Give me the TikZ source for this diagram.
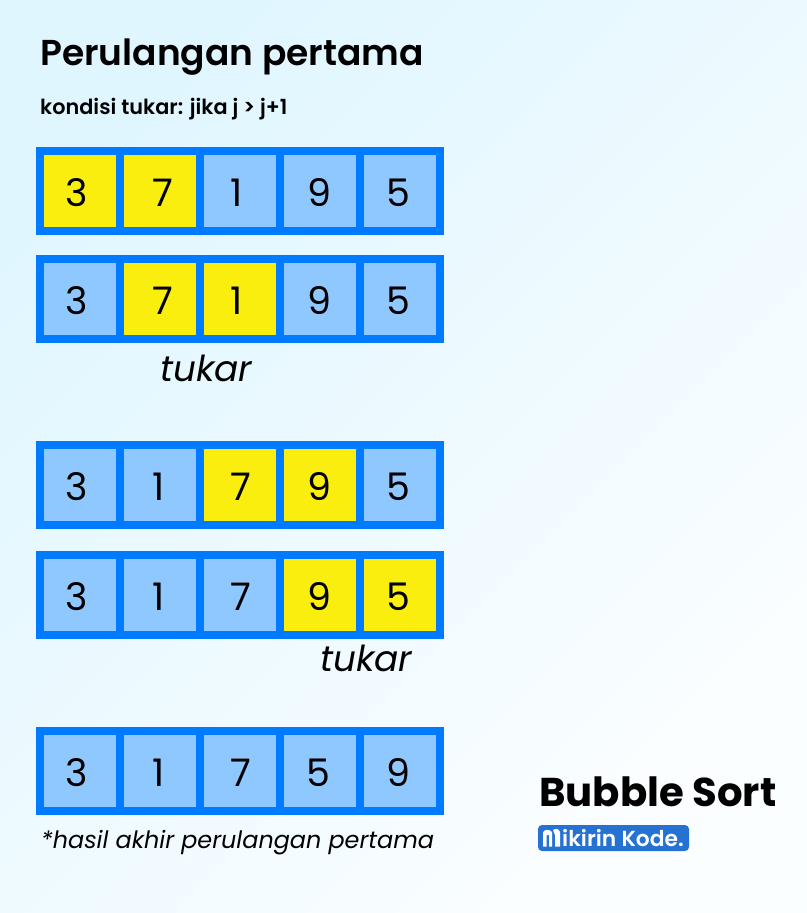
\documentclass[tikz,border=0pt]{standalone}
\usepackage{fontspec}
\setmainfont{Poppins}
\newfontfamily\pmed{Poppins Medium}
\newfontfamily\psemi{Poppins SemiBold}
\newfontfamily\pital{Poppins Italic}
\definecolor{bgA}{HTML}{E0F6FF}
\definecolor{bgB}{HTML}{FBFEFF}
\definecolor{frameblue}{HTML}{007BFF}
\definecolor{cellblue}{HTML}{8FC8FF}
\definecolor{cellyellow}{HTML}{FAEE0E}
\definecolor{logoblue}{HTML}{2672D2}
\tikzset{
  frame/.style={fill=frameblue,draw=none,anchor=north west,minimum width=408bp,minimum height=88bp,inner sep=0pt},
  cell/.style={draw=none,anchor=center,minimum width=72bp,minimum height=72bp,inner sep=0pt},
  plain/.style={cell,fill=cellblue},
  hot/.style={cell,fill=cellyellow},
  digit/.style={anchor=base,inner sep=0pt,font=\fontsize{38bp}{40bp}\selectfont,text=black},
  note/.style={font=\pital\fontsize{35.8bp}{38bp}\selectfont,text=black,inner sep=0pt}
}
% name, top, then value/style/text-centre for the five cells
\newcommand{\datarow}[7]{%
  \node[frame] (#1) at (36bp,-#2bp) {};
  \foreach \v/\s/\tx [count=\i] in {#3,#4,#5,#6,#7} {
    \node[\s] (#1c\i) at ({(80*\i)*1bp},{-(#2+44)*1bp}) {};
    \node[digit] (#1d\i) at ({\tx*1bp},{-(#2+59)*1bp}) {\v};
  }
}
\begin{document}
\begin{tikzpicture}[x=1bp,y=-1bp]
\useasboundingbox (0,0) rectangle (807,913);
\shade[left color=bgA,right color=bgB,shading angle=45,draw=none] (0,0) rectangle (807,913);
\node[anchor=base west,inner sep=0pt,font=\psemi\fontsize{36bp}{40bp}\selectfont] (title) at (40,65) {Perulangan pertama};
\node[anchor=base west,inner sep=0pt,font=\psemi\fontsize{20.8bp}{24bp}\selectfont] (sub) at (40,114) {kondisi tukar: jika j > j+1};
\datarow{ra}{147}{3/hot/77}{7/hot/162.5}{1/plain/236.5}{9/plain/319}{5/plain/398}
\datarow{rb}{255}{3/plain/77}{7/hot/162.5}{1/hot/236.5}{9/plain/319}{5/plain/398}
\datarow{rc}{441}{3/plain/77}{1/plain/158.5}{7/hot/240.5}{9/hot/319}{5/plain/398}
\datarow{rd}{551}{3/plain/77}{1/plain/158.5}{7/plain/240.5}{9/hot/319}{5/hot/398}
\datarow{re}{727}{3/plain/77}{1/plain/158.5}{7/plain/240.5}{5/plain/318.5}{9/plain/398}
\node[note,anchor=base west] (t1) at (160,381) {tukar};
\node[note,anchor=base west] (t2) at (320,671) {tukar};
\node[note,anchor=base west,font=\pital\fontsize{23.9bp}{26bp}\selectfont] (res) at (41,848) {*hasil akhir perulangan pertama};
\node[anchor=base west,inner sep=0pt,font=\fontsize{40.2bp}{44bp}\selectfont\bfseries] (bs) at (539,806) {Bubble Sort};
\fill[logoblue,rounded corners=4] (538,825) rectangle (689,851);
\fill[white] (543,846.5) -- (543,833) .. controls (543,829.5) and (549,828.5) .. (552,832) -- (552,846.5) -- (549,846.5) -- (549,835) -- (546.5,835) -- (546.5,846.5) -- cycle;
\fill[white] (553,830) .. controls (556,828) and (559,829) .. (560,832) -- (560,846.5) -- (555,846.5) -- (555,835) -- cycle;
\node[anchor=base west,inner sep=0pt,font=\psemi\fontsize{21.8bp}{24bp}\selectfont,text=white] (logo) at (562,846) {ikirin Kode.};
\end{tikzpicture}
\end{document}
